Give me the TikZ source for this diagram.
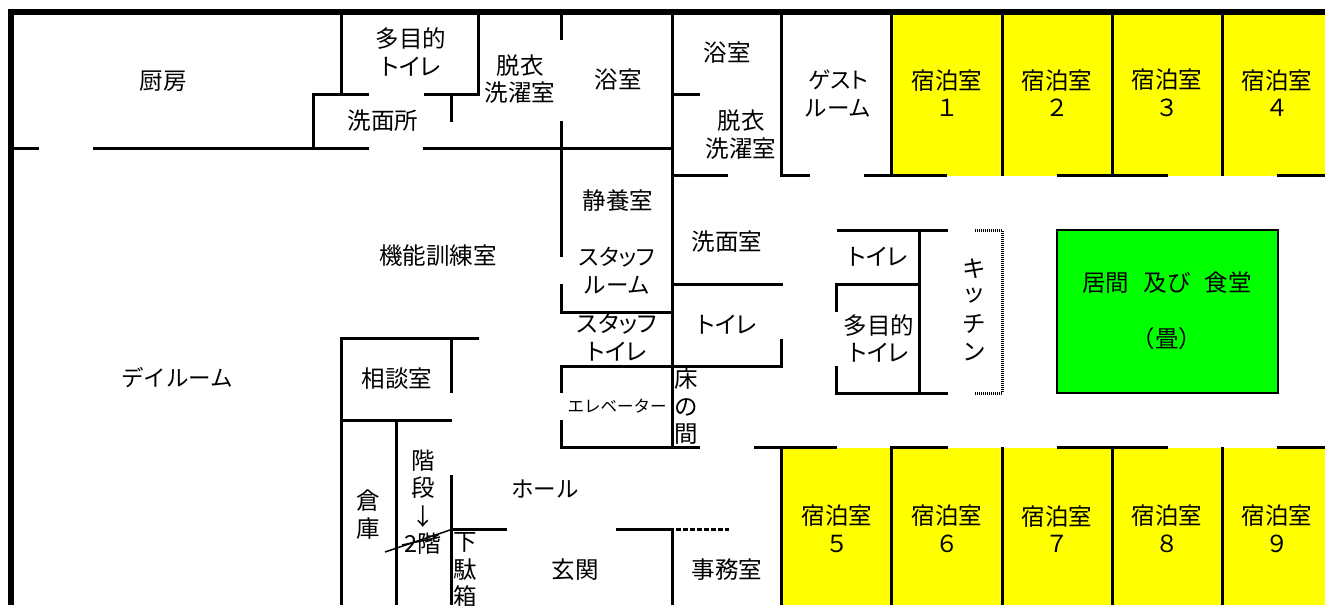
\documentclass[tikz,border=0pt]{standalone}
\usepackage{fontspec}
\setmainfont{Noto Sans CJK JP}
\newfontfamily\paltfont[RawFeature={+palt}]{Noto Sans CJK JP}
\newcommand{\pk}[1]{{\paltfont #1}}
\definecolor{roomyellow}{RGB}{255,255,0}
\definecolor{roomgreen}{RGB}{0,255,0}
\tikzset{
  x=1pt,y=-1pt,
  wall/.style={draw=black,line width=3pt,line cap=butt,line join=miter},
  outer/.style={draw=black,line width=6pt,line join=miter},
  lbl/.style={inner sep=0pt,align=center,text=black,font=\fontsize{23.5}{27.5}\selectfont},
  kanalbl/.style={lbl,font=\fontsize{22.5}{27.5}\selectfont},
  small/.style={lbl,font=\fontsize{16.5}{20}\selectfont},
  dots/.style={draw=black,line width=3pt,dash pattern=on 1pt off 1pt},
  dash1/.style={draw=black,line width=3pt,dash pattern=on 5pt off 2pt},
  living/.style={fill=roomgreen,draw=black,line width=1.2pt}
}
\begin{document}
\begin{tikzpicture}
\useasboundingbox[fill=white] (0,0) rectangle (1325,605);
% coloured rooms
\fill[roomyellow] (891,14) rectangle (1325,176);
\fill[roomyellow] (781,448) rectangle (1325,605);
\draw[living] (1057,230) rectangle (1278,393);
% outer walls
\draw[outer] (11,605) -- (11,11.5) -- (1325,11.5);
% upper band
\draw[wall] (14,148) -- (39,148);
\draw[wall] (93,148) -- (369,148);
\draw[wall] (423,148) -- (673,148);
\draw[wall] (313,148) -- (313,94) -- (369,94);
\draw[wall] (341,14) -- (341,94);
\draw[wall] (424,94) -- (480,94);
\draw[wall] (478,14) -- (478,95);
\draw[wall] (451,94) -- (451,122);
\draw[wall] (561,14) -- (561,40);
\draw[wall] (561,121) -- (561,257);
\draw[wall] (561,284) -- (561,312) -- (672,312);
\draw[wall] (672,14) -- (672,449);
\draw[wall] (672,94) -- (700,94);
\draw[wall] (672,175) -- (728,175);
\draw[wall] (781,14) -- (781,175) -- (810,175);
\draw[wall] (864,175) -- (947,175);
\draw[wall] (1057,175) -- (1168,175);
\draw[wall] (1277,175) -- (1325,175);
\draw[wall] (891,14) -- (891,176);
\draw[wall] (1002,14) -- (1002,176);
\draw[wall] (1112,14) -- (1112,176);
\draw[wall] (1222,14) -- (1222,176);
% centre block
\draw[wall] (672,284) -- (783,284);
\draw[wall] (781,339) -- (781,366) -- (561,366) -- (561,393);
\draw[wall] (561,420) -- (561,447) -- (700,447);
\draw[wall] (837,230) -- (948,230);
\draw[wall] (919,230) -- (919,393);
\draw[wall] (836.5,312) -- (836.5,284) -- (919,284);
\draw[wall] (836.5,366) -- (836.5,393) -- (948,393);
\draw[dots] (975,230) -- (1003,230);
\draw[dots] (1002,231) -- (1002,393);
\draw[dots] (975,393) -- (1003,393);
% lower band
\draw[wall] (754,447) -- (837,447);
\draw[wall] (890,447) -- (948,447);
\draw[wall] (1057,447) -- (1168,447);
\draw[wall] (1277,447) -- (1325,447);
\draw[wall] (781,447) -- (781,605);
\draw[wall] (891,447) -- (891,605);
\draw[wall] (1002,447) -- (1002,605);
\draw[wall] (1112,447) -- (1112,605);
\draw[wall] (1222,447) -- (1222,605);
% left lower rooms
\draw[wall] (479,338) -- (341,338) -- (341,605);
\draw[wall] (451,338) -- (451,393);
\draw[wall] (341,420) -- (452,420);
\draw[wall] (396,420) -- (396,605);
\draw[wall] (451,475) -- (451,605);
\draw[wall] (451,529) -- (507,529);
\draw[wall] (616,529) -- (672,529) -- (672,605);
\draw[dash1] (676,529) -- (729,529);
% labels
\node[lbl] (kitchenroom) at (163,81) {厨房};
\node[lbl] (mwc1) at (411,52) {多目的\\\pk{トイレ}};
\node[lbl] (wash1) at (383,121) {洗面所};
\node[lbl] (dress1) at (520,79) {脱衣\\洗濯室};
\node[lbl] (bath1) at (618,80) {浴室};
\node[lbl] (bath2) at (727,53) {浴室};
\node[lbl] (dress2) at (741,134.5) {脱衣\\洗濯室};
\node[kanalbl] (guestroom) at (838,93.5) {\pk{ゲスト}\\ルーム};
\node[lbl] (r1) at (947,93) {宿泊室\\１};
\node[lbl] (r2) at (1057,93) {宿泊室\\２};
\node[lbl] (r3) at (1167,93) {宿泊室\\３};
\node[lbl] (r4) at (1277,93) {宿泊室\\４};
\node[lbl] (rest) at (618,201) {静養室};
\node[lbl] (training) at (438,256) {機能訓練室};
\node[lbl] (wash2) at (727,242) {洗面室};
\node[kanalbl] (staffroom) at (617,270.5) {\pk{スタッフ}\\ルーム};
\node[lbl] (wc1) at (727,325) {\pk{トイレ}};
\node[lbl] (staffwc) at (617,337.5) {\pk{スタッフ}\\\pk{トイレ}};
\node[lbl] (wc2) at (878,257) {\pk{トイレ}};
\node[lbl] (mwc2) at (879,338.5) {多目的\\\pk{トイレ}};
\node[lbl] (k1) at (974,269) {キ};
\node[lbl] (k2) at (974,296) {ッ};
\node[lbl] (k3) at (974,324) {チ};
\node[lbl] (k4) at (974,352) {ン};
\node[lbl] (living1) at (1167,283) {居間\hspace{0.6em}及び\hspace{0.6em}食堂};
\node[lbl] (living2) at (1167,339) {（畳）};
\node[kanalbl] (day) at (177,378) {デイルーム};
\node[lbl] (consult) at (397,379) {相談室};
\node[small] (ev) at (617,406) {エレベーター};
\node[lbl] (t1) at (686,379) {床};
\node[lbl] (t2) at (686,407) {の};
\node[lbl] (t3) at (686,434) {間};
\node[lbl] (s1) at (423,461) {階};
\node[lbl] (s2) at (423,488) {段};
\node[lbl] (s3) at (423,517) {↓};
\node[lbl] (s4) at (423,544) {2階};
\node[lbl] (st1) at (368,501) {倉};
\node[lbl] (st2) at (368,529) {庫};
\node[kanalbl] (hall) at (545,489) {ホール};
\node[lbl] (sh1) at (465,542) {下};
\node[lbl] (sh2) at (465,570) {駄};
\node[lbl] (sh3) at (465,597) {箱};
\node[lbl] (entrance) at (575,570) {玄関};
\node[lbl] (office) at (727,570) {事務室};
\node[lbl] (r5) at (837,529) {宿泊室\\５};
\node[lbl] (r6) at (947,529) {宿泊室\\６};
\node[lbl] (r7) at (1057,529) {宿泊室\\７};
\node[lbl] (r8) at (1167,529) {宿泊室\\８};
\node[lbl] (r9) at (1277,529) {宿泊室\\９};
% stair strike lines
\draw[black,line width=1.5pt] (385,552) -- (453,529);
\draw[black,line width=1.5pt] (402,545) -- (440,537);
\end{tikzpicture}
\end{document}
